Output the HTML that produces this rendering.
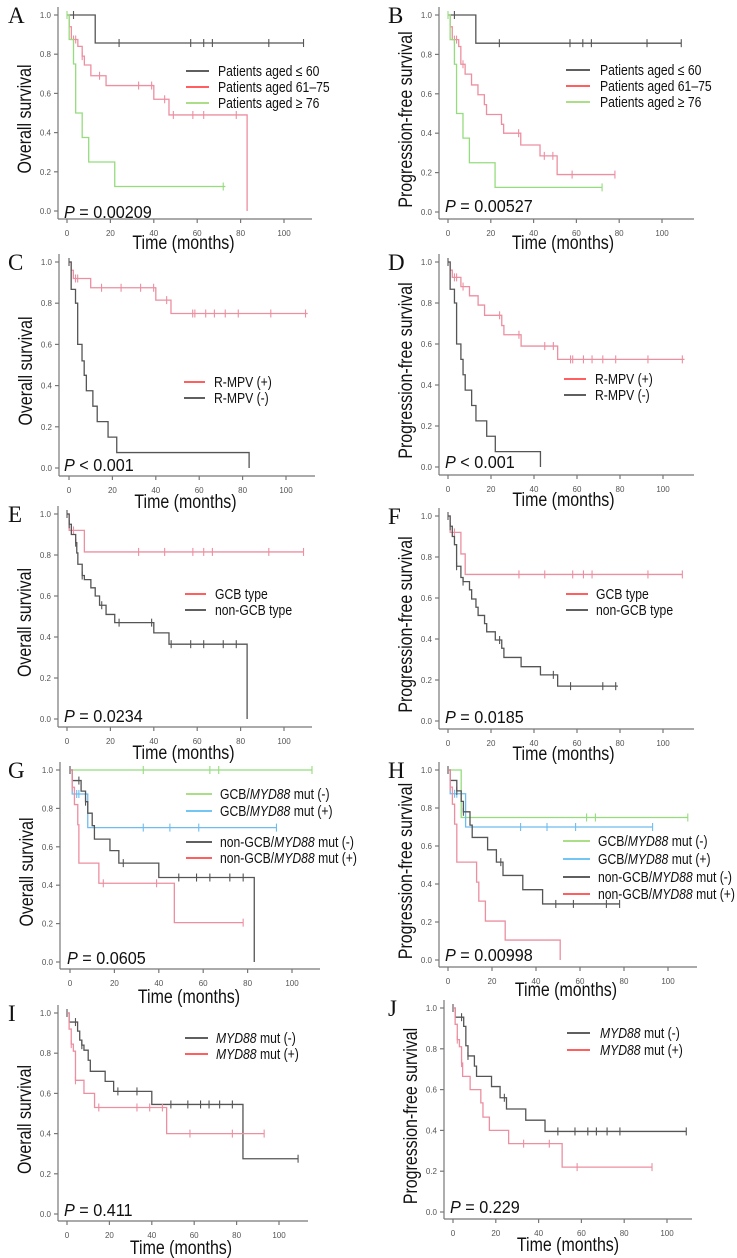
<!DOCTYPE html>
<html><head><meta charset="utf-8">
<style>
html,body{margin:0;padding:0;background:#fff;}
svg{display:block;font-family:"Liberation Sans",sans-serif;}
</style></head>
<body>
<svg id="fig" width="737" height="1258" viewBox="0 0 737 1258" xmlns="http://www.w3.org/2000/svg"></svg>
<script>
// ---------- DATA (steps: [time, survival after drop]; censor times; end time) ----------
const xTicks = [0, 20, 40, 60, 80, 100];
const yTicks = [0, 0.2, 0.4, 0.6, 0.8, 1.0];
const yTickLabels = ["0.0", "0.2", "0.4", "0.6", "0.8", "1.0"];

// Panel A (OS by age)
const A_le60_steps = [[13, 0.857]];
const A_le60_cens = [3, 24, 57, 63, 67, 93, 109];
const A_le60_end = 109;
const A_6175_steps = [[1, 0.94], [2, 0.875], [5, 0.84], [7, 0.79], [8, 0.745], [11, 0.69], [18, 0.64], [40, 0.57], [47, 0.49], [83, 0]];
const A_6175_cens = [3, 4, 7, 15, 33, 39, 45, 49, 58, 63, 78];
const A_6175_end = 83;
const A_ge76_steps = [[1, 0.875], [3, 0.75], [4, 0.5], [7, 0.375], [10, 0.25], [22, 0.125]];
const A_ge76_cens = [0, 72];
const A_ge76_end = 73;

// Panel B (PFS by age)
const B_le60_steps = [[13, 0.857]];
const B_le60_cens = [3, 24, 57, 63, 67, 93, 109];
const B_le60_end = 109;
const B_6175_steps = [[1, 0.94], [2, 0.875], [5, 0.84], [6, 0.75], [8, 0.70], [11, 0.645], [14, 0.595], [17, 0.545], [18, 0.495], [25, 0.445], [26, 0.40], [34, 0.34], [43, 0.285], [51, 0.19]];
const B_6175_cens = [3, 4, 7, 33, 45, 49, 58, 78];
const B_6175_end = 78;
const B_ge76_steps = [[1, 0.875], [3, 0.75], [4, 0.5], [7, 0.375], [10, 0.25], [22, 0.125]];
const B_ge76_cens = [0, 72];
const B_ge76_end = 72;

// Panel C (OS by R-MPV)
const C_pos_steps = [[1, 0.96], [2, 0.92], [10, 0.875], [40, 0.815], [47, 0.75]];
const C_pos_cens = [3, 4, 15, 24, 33, 39, 45, 57, 58, 63, 67, 72, 78, 93, 109];
const C_pos_end = 110;
const C_neg_steps = [[1, 0.867], [3, 0.8], [4, 0.6], [6, 0.52], [7, 0.45], [8, 0.375], [11, 0.3], [13, 0.225], [18, 0.15], [22, 0.075], [83, 0]];
const C_neg_cens = [0];
const C_neg_end = 83;

// Panel D (PFS by R-MPV)
const D_pos_steps = [[1, 0.96], [2, 0.925], [6, 0.88], [10, 0.835], [14, 0.79], [17, 0.74], [25, 0.69], [26, 0.645], [34, 0.59], [51, 0.525]];
const D_pos_cens = [3, 4, 7, 24, 33, 45, 49, 57, 58, 63, 67, 72, 78, 93, 109];
const D_pos_end = 110;
const D_neg_steps = [[1, 0.867], [3, 0.8], [4, 0.6], [6, 0.525], [7, 0.45], [8, 0.375], [11, 0.3], [13, 0.225], [18, 0.15], [22, 0.075], [43, 0]];
const D_neg_cens = [0];
const D_neg_end = 43;

// Panel E (OS by cell of origin)
const E_gcb_steps = [[1, 0.92], [8, 0.815]];
const E_gcb_cens = [3, 33, 45, 58, 63, 67, 93, 109];
const E_gcb_end = 109;
const E_non_steps = [[1, 0.95], [2, 0.90], [4, 0.86], [4.5, 0.81], [5, 0.755], [7, 0.70], [8, 0.68], [11, 0.64], [13, 0.60], [15, 0.555], [18, 0.51], [22, 0.47], [40, 0.42], [47, 0.365], [83, 0]];
const E_non_cens = [0, 1, 4, 7, 16, 24, 39, 48, 57, 63, 72, 78];
const E_non_end = 83;

// Panel F (PFS by cell of origin)
const F_gcb_steps = [[1, 0.92], [6, 0.815], [8, 0.715]];
const F_gcb_cens = [3, 33, 45, 58, 63, 67, 93, 109];
const F_gcb_end = 109;
const F_non_steps = [[1, 0.95], [2, 0.90], [3, 0.86], [4, 0.755], [6, 0.70], [7, 0.68], [10, 0.64], [11, 0.595], [13, 0.555], [14, 0.515], [17, 0.475], [18, 0.435], [22, 0.395], [25, 0.355], [26, 0.31], [34, 0.265], [43, 0.225], [51, 0.17]];
const F_non_cens = [0, 1, 4, 7, 24, 49, 57, 72, 78];
const F_non_end = 79;

// Panel G (OS, 4 groups)
const G_gm_steps = [];
const G_gm_cens = [0, 33, 63, 67, 109];
const G_gm_end = 109;
const G_gp_steps = [[1, 0.875], [8, 0.70]];
const G_gp_cens = [3, 4, 33, 45, 58, 93];
const G_gp_end = 93;
const G_nm_steps = [[1, 0.945], [5, 0.89], [7, 0.835], [8, 0.775], [10, 0.71], [11, 0.64], [18, 0.58], [22, 0.515], [40, 0.44], [83, 0]];
const G_nm_cens = [0, 4, 7, 24, 49, 57, 63, 72, 78];
const G_nm_end = 83;
const G_np_steps = [[1, 0.91], [2, 0.82], [3.5, 0.715], [4, 0.515], [13, 0.41], [47, 0.205]];
const G_np_cens = [1, 15, 39, 78];
const G_np_end = 78;

// Panel H (PFS, 4 groups)
const H_gm_steps = [[6, 0.75]];
const H_gm_cens = [63, 67, 109];
const H_gm_end = 109;
const H_gp_steps = [[1, 0.875], [8, 0.70]];
const H_gp_cens = [3, 4, 33, 45, 58, 93];
const H_gp_end = 93;
const H_nm_steps = [[1, 0.945], [4, 0.89], [6, 0.835], [7, 0.78], [10, 0.71], [11, 0.645], [18, 0.58], [22, 0.515], [25, 0.445], [34, 0.37], [43, 0.295]];
const H_nm_cens = [0, 4, 7, 24, 49, 57, 72, 78];
const H_nm_end = 78;
const H_np_steps = [[1, 0.91], [2, 0.82], [3, 0.715], [4, 0.515], [13, 0.41], [14, 0.31], [17, 0.205], [26, 0.105], [51, 0]];
const H_np_cens = [1];
const H_np_end = 51;

// Panel I (OS by MYD88)
const I_neg_steps = [[1, 0.955], [5, 0.91], [6, 0.865], [7, 0.84], [8, 0.815], [10, 0.765], [11, 0.71], [18, 0.66], [22, 0.61], [40, 0.545], [83, 0.275]];
const I_neg_cens = [0, 4, 7, 24, 33, 49, 57, 63, 67, 72, 78, 109];
const I_neg_end = 109;
const I_pos_steps = [[1, 0.92], [2, 0.845], [3, 0.81], [4, 0.665], [8, 0.60], [13, 0.53], [47, 0.40]];
const I_pos_cens = [2, 4, 15, 33, 39, 45, 58, 78, 93];
const I_pos_end = 93;

// Panel J (PFS by MYD88)
const J_neg_steps = [[1, 0.955], [5, 0.91], [6, 0.815], [7, 0.765], [10, 0.715], [11, 0.665], [18, 0.615], [22, 0.56], [25, 0.505], [34, 0.45], [43, 0.395]];
const J_neg_cens = [0, 4, 7, 24, 49, 57, 63, 67, 72, 78, 109];
const J_neg_end = 109;
const J_pos_steps = [[1, 0.92], [2, 0.845], [3, 0.81], [4, 0.73], [4.5, 0.665], [8, 0.60], [13, 0.535], [14, 0.465], [17, 0.40], [26, 0.335], [51, 0.22]];
const J_pos_cens = [2, 4, 33, 45, 58, 93];
const J_pos_end = 93;

// ---------- STYLE ----------
const COL = {k: "#555555", r: "#ec8fa0", g: "#95dc7e", b: "#6fbcef"};
const LEG = {k: "#2a2a2a", r: "#ff2a2a", g: "#8fd45f", b: "#45b2f0"};
const NS = "http://www.w3.org/2000/svg";
const svg = document.getElementById("fig");

function el(tag, attrs, parent) {
  const e = document.createElementNS(NS, tag);
  for (const k in attrs) e.setAttribute(k, attrs[k]);
  (parent || svg).appendChild(e);
  return e;
}

const panels = [
  {id: "a", letter: "A", lx: 8, x0: 67, x100: 284, y1: 15, y0: 211, L: 58, B: 219, R: 312, tl: 243, yt: "Overall survival", p: "0.00209", pop: "=", px: 64, py: 212,
    legX1: 186, legX2: 209, legTx: 218,
    series: [
      {name: "aged-60-or-less", c: "k", steps: A_le60_steps, cens: A_le60_cens, end: A_le60_end, lab: "Patients aged \u2264 60", ly: 71},
      {name: "aged-61-75", c: "r", steps: A_6175_steps, cens: A_6175_cens, end: A_6175_end, lab: "Patients aged 61\u201375", ly: 87},
      {name: "aged-76-or-more", c: "g", steps: A_ge76_steps, cens: A_ge76_cens, end: A_ge76_end, lab: "Patients aged \u2265 76", ly: 103}]},
  {id: "b", letter: "B", lx: 388, x0: 448, x100: 662, y1: 15, y0: 212, L: 439, B: 219, R: 694, tl: 243, yt: "Progression-free survival", p: "0.00527", pop: "=", px: 445, py: 206,
    legX1: 566, legX2: 590, legTx: 600,
    series: [
      {name: "aged-60-or-less", c: "k", steps: B_le60_steps, cens: B_le60_cens, end: B_le60_end, lab: "Patients aged \u2264 60", ly: 70},
      {name: "aged-61-75", c: "r", steps: B_6175_steps, cens: B_6175_cens, end: B_6175_end, lab: "Patients aged 61\u201375", ly: 86},
      {name: "aged-76-or-more", c: "g", steps: B_ge76_steps, cens: B_ge76_cens, end: B_ge76_end, lab: "Patients aged \u2265 76", ly: 102}]},
  {id: "c", letter: "C", lx: 8, x0: 69, x100: 286, y1: 262, y0: 468, L: 59, B: 476, R: 315, tl: 502, yt: "Overall survival", p: "0.001", pop: "<", px: 64, py: 465,
    legX1: 184, legX2: 205, legTx: 214,
    series: [
      {name: "r-mpv-positive", c: "r", steps: C_pos_steps, cens: C_pos_cens, end: C_pos_end, lab: "R-MPV (+)", ly: 382},
      {name: "r-mpv-negative", c: "k", steps: C_neg_steps, cens: C_neg_cens, end: C_neg_end, lab: "R-MPV (-)", ly: 398}]},
  {id: "d", letter: "D", lx: 388, x0: 448, x100: 663, y1: 262, y0: 467, L: 439, B: 475, R: 694, tl: 500, yt: "Progression-free survival", p: "0.001", pop: "<", px: 445, py: 462,
    legX1: 564, legX2: 586, legTx: 595,
    series: [
      {name: "r-mpv-positive", c: "r", steps: D_pos_steps, cens: D_pos_cens, end: D_pos_end, lab: "R-MPV (+)", ly: 379},
      {name: "r-mpv-negative", c: "k", steps: D_neg_steps, cens: D_neg_cens, end: D_neg_end, lab: "R-MPV (-)", ly: 395}]},
  {id: "e", letter: "E", lx: 8, x0: 67, x100: 284, y1: 514, y0: 719, L: 58, B: 727, R: 312, tl: 753, yt: "Overall survival", p: "0.0234", pop: "=", px: 64, py: 716,
    legX1: 185, legX2: 206, legTx: 215,
    series: [
      {name: "gcb-type", c: "r", steps: E_gcb_steps, cens: E_gcb_cens, end: E_gcb_end, lab: "GCB type", ly: 594},
      {name: "non-gcb-type", c: "k", steps: E_non_steps, cens: E_non_cens, end: E_non_end, lab: "non-GCB type", ly: 610}]},
  {id: "f", letter: "F", lx: 388, x0: 448, x100: 663, y1: 516, y0: 721, L: 439, B: 729, R: 694, tl: 754, yt: "Progression-free survival", p: "0.0185", pop: "=", px: 445, py: 717,
    legX1: 566, legX2: 588, legTx: 596,
    series: [
      {name: "gcb-type", c: "r", steps: F_gcb_steps, cens: F_gcb_cens, end: F_gcb_end, lab: "GCB type", ly: 594},
      {name: "non-gcb-type", c: "k", steps: F_non_steps, cens: F_non_cens, end: F_non_end, lab: "non-GCB type", ly: 610}]},
  {id: "g", letter: "G", lx: 8, x0: 70, x100: 292, y1: 770, y0: 962, L: 60, B: 969, R: 320, tl: 997, yt: "Overall survival", p: "0.0605", pop: "=", px: 67, py: 958,
    legX1: 186, legX2: 212, legTx: 220,
    series: [
      {name: "gcb-myd88-neg", c: "g", steps: G_gm_steps, cens: G_gm_cens, end: G_gm_end, lab: ["GCB/", "MYD88", " mut (-)"], ly: 794},
      {name: "gcb-myd88-pos", c: "b", steps: G_gp_steps, cens: G_gp_cens, end: G_gp_end, lab: ["GCB/", "MYD88", " mut (+)"], ly: 811},
      {name: "non-gcb-myd88-neg", c: "k", steps: G_nm_steps, cens: G_nm_cens, end: G_nm_end, lab: ["non-GCB/", "MYD88", " mut (-)"], ly: 842},
      {name: "non-gcb-myd88-pos", c: "r", steps: G_np_steps, cens: G_np_cens, end: G_np_end, lab: ["non-GCB/", "MYD88", " mut (+)"], ly: 858}]},
  {id: "h", letter: "H", lx: 388, x0: 448, x100: 668, y1: 770, y0: 960, L: 439, B: 967, R: 697, tl: 990, yt: "Progression-free survival", p: "0.00998", pop: "=", px: 445, py: 955,
    legX1: 563, legX2: 590, legTx: 598,
    series: [
      {name: "gcb-myd88-neg", c: "g", steps: H_gm_steps, cens: H_gm_cens, end: H_gm_end, lab: ["GCB/", "MYD88", " mut (-)"], ly: 841},
      {name: "gcb-myd88-pos", c: "b", steps: H_gp_steps, cens: H_gp_cens, end: H_gp_end, lab: ["GCB/", "MYD88", " mut (+)"], ly: 859},
      {name: "non-gcb-myd88-neg", c: "k", steps: H_nm_steps, cens: H_nm_cens, end: H_nm_end, lab: ["non-GCB/", "MYD88", " mut (-)"], ly: 877},
      {name: "non-gcb-myd88-pos", c: "r", steps: H_np_steps, cens: H_np_cens, end: H_np_end, lab: ["non-GCB/", "MYD88", " mut (+)"], ly: 894}]},
  {id: "i", letter: "I", lx: 8, x0: 67, x100: 279, y1: 1013, y0: 1214, L: 58, B: 1221, R: 308, tl: 1248, yt: "Overall survival", p: "0.411", pop: "=", px: 64, py: 1210,
    legX1: 185, legX2: 208, legTx: 216,
    series: [
      {name: "myd88-neg", c: "k", steps: I_neg_steps, cens: I_neg_cens, end: I_neg_end, lab: ["", "MYD88", " mut (-)"], ly: 1038},
      {name: "myd88-pos", c: "r", steps: I_pos_steps, cens: I_pos_cens, end: I_pos_end, lab: ["", "MYD88", " mut (+)"], ly: 1054}]},
  {id: "j", letter: "J", lx: 388, x0: 453, x100: 667, y1: 1008, y0: 1212, L: 444, B: 1219, R: 692, tl: 1245, yt: "Progression-free  survival", p: "0.229", pop: "=", px: 450, py: 1207,
    legX1: 567, legX2: 590, legTx: 600,
    series: [
      {name: "myd88-neg", c: "k", steps: J_neg_steps, cens: J_neg_cens, end: J_neg_end, lab: ["", "MYD88", " mut (-)"], ly: 1033},
      {name: "myd88-pos", c: "r", steps: J_pos_steps, cens: J_pos_cens, end: J_pos_end, lab: ["", "MYD88", " mut (+)"], ly: 1050}]}
];

function survAt(steps, t) {
  let s = 1;
  for (const st of steps) { if (st[0] <= t) s = st[1]; }
  return s;
}

panels.forEach(P => {
  const xs = t => P.x0 + (P.x100 - P.x0) * t / 100;
  const ys = v => P.y0 - (P.y0 - P.y1) * v;
  const g = el("g", {});
  
  

  const lt = el("text", {x: P.lx, y: P.y1 + 8, "font-family": '"Liberation Serif",serif', "font-size": 23, fill: "#111"}, g);
  lt.textContent = P.letter;
  
  

  const ax = el("g", {stroke: "#777", "stroke-width": 1.2, fill: "none"}, g);
  
  
  el("line", {x1: P.L, y1: P.y1 - 8, x2: P.L, y2: P.B}, ax);
  el("line", {x1: P.L, y1: P.B, x2: P.R, y2: P.B}, ax);
  yTicks.forEach((v, i) => {
    el("line", {x1: P.L - 4, y1: ys(v), x2: P.L, y2: ys(v)}, ax);
    const t = el("text", {x: P.L - 7, y: ys(v) + 3, "text-anchor": "end", "font-size": 8, fill: "#555", stroke: "none"}, g);
    t.textContent = yTickLabels[i];
    
    
  });
  xTicks.forEach(v => {
    el("line", {x1: xs(v), y1: P.B, x2: xs(v), y2: P.B + 4}, ax);
    const t = el("text", {x: xs(v), y: P.B + 17, "text-anchor": "middle", "font-size": 8, fill: "#555"}, g);
    t.textContent = String(v);
    
    
  });

  const tx0 = (P.x0 + P.x100) / 2 + 8;
  const xt = el("text", {transform: "translate(" + tx0 + "," + (P.tl + 6) + ") scale(0.84,1)", "text-anchor": "middle", "font-size": 19, fill: "#111"}, g);
  xt.textContent = "Time (months)";
  
  
  const cy = (P.y1 + P.y0) / 2 + 6;
  const cx = P.L - 27;
  const yt = el("text", {transform: "translate(" + cx + "," + cy + ") rotate(-90) scale(0.84,1)", "text-anchor": "middle", "font-size": 19, fill: "#111", "xml:space": "preserve"}, g);
  yt.textContent = P.yt;
  
  

  P.series.forEach(S => {
    let d = "M" + xs(0) + "," + ys(1);
    S.steps.forEach(st => {
      if (st[0] > S.end) return;
      d += " H" + xs(st[0]) + " V" + ys(st[1]);
    });
    d += " H" + xs(S.end);
    const path = el("path", {d: d, fill: "none", stroke: COL[S.c], "stroke-width": 1.3}, g);
    
    
    S.cens.forEach(t => {
      const v = survAt(S.steps, t);
      const m = el("line", {x1: xs(t), x2: xs(t), y1: ys(v) - 4, y2: ys(v) + 4, stroke: COL[S.c], "stroke-width": 1.1}, g);
      
      
    });

    const le = el("g", {}, g);
    
    
    el("line", {x1: P.legX1, x2: P.legX2, y1: S.ly, y2: S.ly, stroke: LEG[S.c], "stroke-width": 1.4}, le);
    const tx = el("text", {transform: "translate(" + P.legTx + "," + (S.ly + 5) + ") scale(0.84,1)", "font-size": 14.5, fill: "#111", "xml:space": "preserve"}, le);
    if (Array.isArray(S.lab)) {
      const a = el("tspan", {}, tx); a.textContent = S.lab[0];
      const b = el("tspan", {"font-style": "italic"}, tx); b.textContent = S.lab[1];
      const c = el("tspan", {}, tx); c.textContent = S.lab[2];
    } else {
      tx.textContent = S.lab;
    }
  });

  const pt = el("text", {transform: "translate(" + P.px + "," + (P.py + 6) + ") scale(0.9,1)", "font-size": 18, fill: "#111", "xml:space": "preserve"}, g);
  const pi = el("tspan", {"font-style": "italic"}, pt); pi.textContent = "P";
  const pr = el("tspan", {}, pt); pr.textContent = " " + P.pop + " " + P.p;
  
  
});
</script>
</body></html>
